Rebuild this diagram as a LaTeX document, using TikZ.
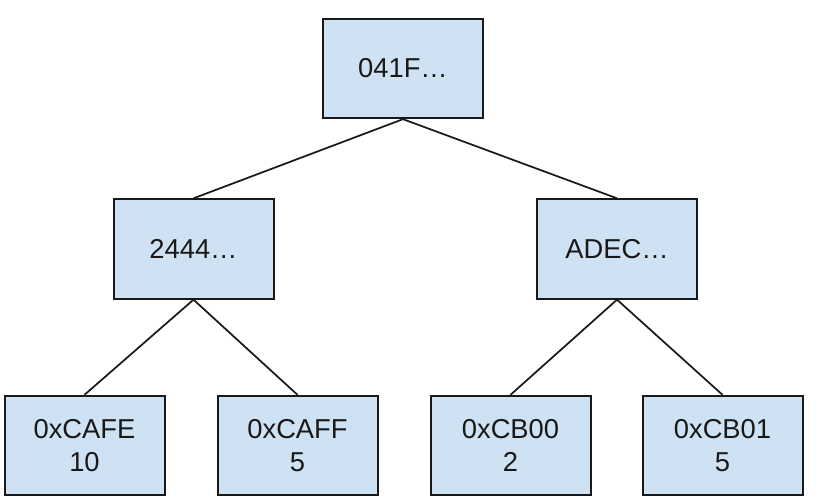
\documentclass[tikz,border=0pt]{standalone}
\usepackage{fontspec}
\setmainfont{Liberation Sans}
\begin{document}
\begin{tikzpicture}[x=0.75pt,y=-0.75pt,
  treebox/.style={draw=black!90, line width=1.5pt, fill=boxblue, minimum width=120pt, minimum height=74.5pt, inner sep=0pt, align=center, font=\fontsize{20.5}{24.75}\selectfont, text=black!90},
  edge/.style={line width=1.3pt, draw=black!90}]
\definecolor{boxblue}{HTML}{CFE2F3}
\useasboundingbox (0,0) rectangle (820,503);
\node[treebox] (root) at (403,68.5) {041F…};
\node[treebox] (l) at (193.5,249) {2444…};
\node[treebox] (r) at (617,249) {ADEC…};
\node[treebox] (ll) at (84.5,445.5) {0xCAFE\\10};
\node[treebox] (lr) at (297.5,445.5) {0xCAFF\\5};
\node[treebox] (rl) at (510.5,445.5) {0xCB00\\2};
\node[treebox] (rr) at (722.5,445.5) {0xCB01\\5};
\draw[edge] (root.south) -- (l.north);
\draw[edge] (root.south) -- (r.north);
\draw[edge] (l.south) -- (ll.north);
\draw[edge] (l.south) -- (lr.north);
\draw[edge] (r.south) -- (rl.north);
\draw[edge] (r.south) -- (rr.north);
\end{tikzpicture}
\end{document}
